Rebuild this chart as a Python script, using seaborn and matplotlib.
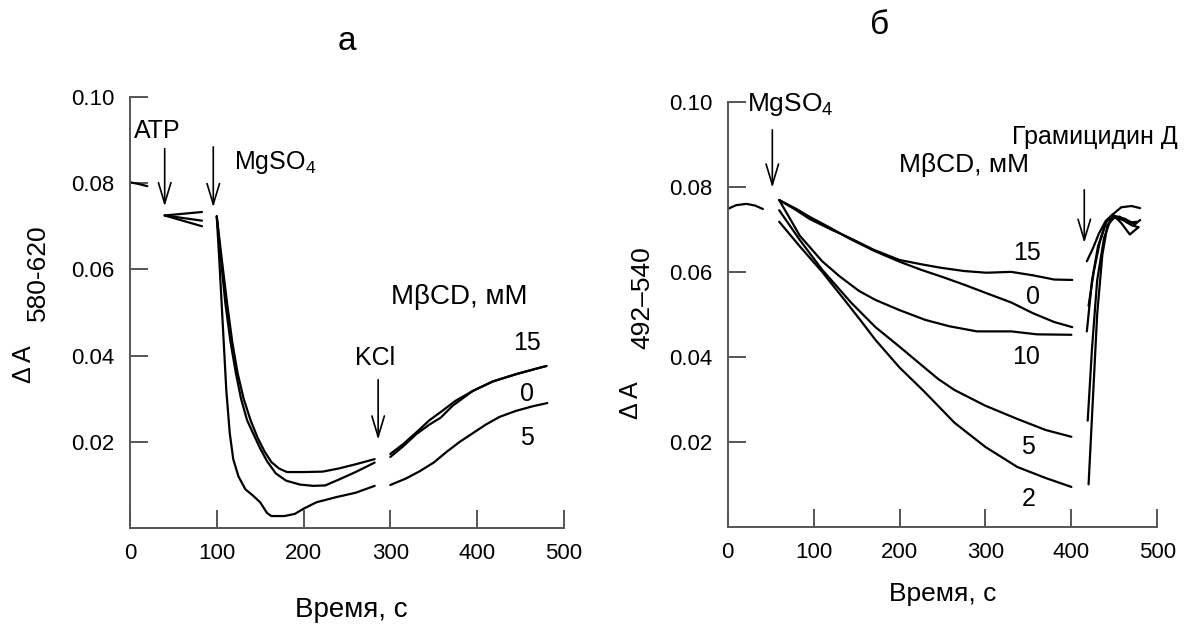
import numpy as np
import pandas as pd
import matplotlib
matplotlib.use("Agg")
import matplotlib.pyplot as plt
import seaborn as sns

# ---- panel a data (time, s ; dA 580-620) ----
t_pre_a = [0, 10, 20]
a_pre_a = [0.0802, 0.0798, 0.0793]

t_atp = [40, 83]
a_atp_15 = [0.0725, 0.0733]
a_atp_0 = [0.0725, 0.0713]
a_atp_5 = [0.0725, 0.0700]

t_mg_15 = [100, 106, 112, 118, 124, 131, 139, 147, 155, 163, 172, 181, 200, 222, 240, 260, 282]
a_mg_15 = [0.0723, 0.062, 0.052, 0.043, 0.036, 0.030, 0.025, 0.021, 0.0178, 0.0153, 0.0138, 0.0130, 0.0130, 0.0131, 0.0138, 0.0148, 0.0160]
t_mg_0 = [100, 105, 110, 116, 122, 128, 135, 143, 150, 158, 168, 180, 196, 211, 225, 240, 260, 282]
a_mg_0 = [0.0723, 0.062, 0.052, 0.043, 0.036, 0.030, 0.025, 0.0215, 0.0185, 0.0155, 0.0127, 0.0110, 0.0101, 0.0098, 0.0099, 0.0112, 0.0130, 0.0152]
t_mg_5 = [100, 103, 107, 111, 115, 119, 125, 133, 142, 150, 158, 163, 178, 190, 200, 215, 238, 260, 282]
a_mg_5 = [0.0723, 0.062, 0.047, 0.032, 0.022, 0.016, 0.012, 0.0090, 0.0075, 0.006, 0.0035, 0.0028, 0.0028, 0.0033, 0.0045, 0.006, 0.0072, 0.0082, 0.0098]

t_kcl_15 = [300, 315, 330, 345, 360, 375, 395, 418, 445, 465, 480]
a_kcl_15 = [0.0172, 0.0195, 0.0222, 0.0250, 0.0272, 0.0295, 0.0318, 0.0340, 0.0357, 0.0368, 0.0376]
t_kcl_0 = [300, 315, 330, 345, 358, 372, 395, 418, 445, 465, 480]
a_kcl_0 = [0.0165, 0.0190, 0.0218, 0.0240, 0.0256, 0.0284, 0.0318, 0.0340, 0.0357, 0.0368, 0.0376]
t_kcl_5 = [300, 318, 334, 350, 365, 380, 395, 410, 426, 445, 465, 481]
a_kcl_5 = [0.0100, 0.0115, 0.0132, 0.0152, 0.0177, 0.0200, 0.0220, 0.0240, 0.0258, 0.0272, 0.0283, 0.0290]

# ---- panel b data (time, s ; dA 492-540) ----
t_pre_b = [0, 10, 22, 32, 41]
a_pre_b = [0.0748, 0.0757, 0.0760, 0.0756, 0.0748]

t_b15 = [60, 80, 95, 120, 142, 170, 200, 225, 247, 275, 301, 330, 355, 380, 401]
a_b15 = [0.0769, 0.0745, 0.0725, 0.0700, 0.0680, 0.0652, 0.0628, 0.0618, 0.0610, 0.0602, 0.0598, 0.0600, 0.0592, 0.0582, 0.0581]
t_b0 = [60, 80, 95, 120, 142, 170, 200, 225, 250, 275, 301, 330, 355, 380, 401]
a_b0 = [0.0769, 0.0748, 0.0730, 0.0703, 0.0678, 0.0650, 0.0624, 0.0605, 0.0588, 0.0570, 0.0550, 0.0528, 0.0503, 0.0482, 0.0470]
t_b10 = [60, 84, 110, 130, 153, 172, 200, 230, 258, 290, 330, 360, 400]
a_b10 = [0.0769, 0.0685, 0.0625, 0.0590, 0.0555, 0.0534, 0.0510, 0.0487, 0.0472, 0.0460, 0.0460, 0.0453, 0.0452]
t_b5 = [60, 84, 110, 144, 172, 200, 223, 245, 264, 300, 337, 370, 400]
a_b5 = [0.0745, 0.0675, 0.0605, 0.0527, 0.0470, 0.0424, 0.0385, 0.0348, 0.0322, 0.0285, 0.0254, 0.0228, 0.0212]
t_b2 = [60, 84, 110, 136, 155, 172, 200, 228, 264, 300, 337, 370, 400]
a_b2 = [0.0718, 0.0660, 0.0600, 0.0534, 0.0485, 0.0440, 0.0375, 0.0320, 0.0245, 0.0188, 0.0141, 0.0115, 0.0094]

# after gramicidin D
t_g1 = [420, 425, 430, 436, 442, 450, 460, 470, 478]
a_g1 = [0.0100, 0.030, 0.050, 0.064, 0.071, 0.0728, 0.0722, 0.0710, 0.0705]
t_g2 = [419, 424, 430, 438, 446, 456, 466, 476]
a_g2 = [0.025, 0.042, 0.058, 0.068, 0.0725, 0.0730, 0.0715, 0.0718]
t_g3 = [418, 424, 431, 440, 448, 458, 468, 478]
a_g3 = [0.046, 0.058, 0.066, 0.0715, 0.0735, 0.0715, 0.0688, 0.0705]
t_g4 = [418, 425, 432, 440, 448, 458, 470, 480]
a_g4 = [0.0625, 0.0655, 0.0690, 0.0720, 0.0735, 0.0752, 0.0755, 0.0750]
t_g5 = [420, 426, 433, 441, 450, 462, 474, 480]
a_g5 = [0.052, 0.060, 0.067, 0.072, 0.0732, 0.0725, 0.0712, 0.0722]

conc_labels_a = ["15", "0", "5"]
conc_labels_b = ["15", "0", "10", "5", "2"]

sns.set_style("ticks")
plt.rcParams["font.family"] = ["Liberation Sans", "DejaVu Sans"]
plt.rcParams["mathtext.fontset"] = "custom"
plt.rcParams["mathtext.rm"] = "Liberation Sans"
plt.rcParams["mathtext.it"] = "Liberation Sans:italic"
plt.rcParams["text.color"] = "black"

fig = plt.figure(figsize=(11.87, 6.25), dpi=100)
ax1 = fig.add_axes([0.1095, 0.155, 0.3655, 0.69])
ax2 = fig.add_axes([0.613, 0.157, 0.362, 0.68])

axcol = "#555555"
lw = 1.6


def curve(ax, t, a):
    df = pd.DataFrame({"t": t, "a": a})
    sns.lineplot(data=df, x="t", y="a", ax=ax, color="black", lw=lw,
                 estimator=None, sort=False)


def arrow(ax, x, y0, y1):
    ax.annotate("", xy=(x, y1), xytext=(x, y0),
                arrowprops=dict(arrowstyle="->,head_length=1.5,head_width=0.45",
                                lw=1.2, color="black", mutation_scale=10,
                                shrinkA=0, shrinkB=0))


# ---- panel a ----
for t, a in [(t_pre_a, a_pre_a), (t_atp, a_atp_15), (t_atp, a_atp_0), (t_atp, a_atp_5),
             (t_mg_15, a_mg_15), (t_mg_0, a_mg_0), (t_mg_5, a_mg_5),
             (t_kcl_15, a_kcl_15), (t_kcl_0, a_kcl_0), (t_kcl_5, a_kcl_5)]:
    curve(ax1, t, a)

arrow(ax1, 40, 0.0880, 0.0746)
arrow(ax1, 96, 0.0884, 0.0744)
arrow(ax1, 286, 0.0344, 0.0205)
ax1.text(31, 0.0920, "ATP", fontsize=18, ha="center", va="center")
ax1.text(120, 0.0848, "MgSO$_4$", fontsize=18, ha="left", va="center")
ax1.text(282, 0.0395, "KCl", fontsize=18, ha="center", va="center")
ax1.text(380, 0.0537, "M\u03b2CD, мМ", fontsize=20, ha="center", va="center")
for lab, y in zip(conc_labels_a, [0.0430, 0.0310, 0.0210]):
    ax1.text(458, y, lab, fontsize=18, ha="center", va="center")

# ---- panel b ----
for t, a in [(t_pre_b, a_pre_b), (t_b15, a_b15), (t_b0, a_b0), (t_b10, a_b10),
             (t_b5, a_b5), (t_b2, a_b2), (t_g1, a_g1), (t_g2, a_g2),
             (t_g3, a_g3), (t_g4, a_g4), (t_g5, a_g5)]:
    curve(ax2, t, a)

arrow(ax2, 52, 0.0934, 0.0798)
arrow(ax2, 415, 0.0793, 0.0668)
ax2.text(22, 0.0995, "MgSO$_4$", fontsize=19, ha="left", va="center")
ax2.text(427, 0.0918, "Грамицидин Д", fontsize=18, ha="center", va="center")
ax2.text(275, 0.0852, "M\u03b2CD, мМ", fontsize=19, ha="center", va="center")
for lab, x, y in zip(conc_labels_b, [348, 355, 347, 350, 350],
                     [0.0645, 0.0540, 0.0400, 0.0188, 0.0066]):
    ax2.text(x, y, lab, fontsize=18, ha="center", va="center")

for ax in (ax1, ax2):
    ax.set_xlim(0, 500)
    ax.set_ylim(0, 0.10)
    ax.set_xticks([0, 100, 200, 300, 400, 500])
    ax.set_yticks([0.02, 0.04, 0.06, 0.08, 0.10])
    ax.set_yticklabels(["0.02", "0.04", "0.06", "0.08", "0.10"])
    ax.tick_params(direction="in", length=13, width=1.4, color=axcol,
                   labelcolor="black", labelsize=16, pad=11)
    ax.set_xlabel("")
    ax.set_ylabel("")
    sns.despine(ax=ax)
    for s in ("left", "bottom"):
        ax.spines[s].set_color(axcol)
        ax.spines[s].set_linewidth(1.4)

W, H = 1187, 625
# axis labels and panel letters, placed in figure pixels
fig.text(351 / W, 1 - 610 / H, "Время, с", fontsize=20, ha="center", va="center")
fig.text(943 / W, 1 - 594 / H, "Время, с", fontsize=19, ha="center", va="center")
fig.text(24 / W, 1 - 364 / H, "Δ A", fontsize=18, rotation=90, ha="center", va="center")
fig.text(38 / W, 1 - 273 / H, "580-620", fontsize=19, rotation=90, ha="center", va="center")
fig.text(631 / W, 1 - 400 / H, "Δ A", fontsize=18, rotation=90, ha="center", va="center")
fig.text(642 / W, 1 - 298 / H, "492–540", fontsize=19, rotation=90, ha="center", va="center")
fig.text(347 / W, 1 - 42 / H, "а", fontsize=24, ha="center", va="center")
fig.text(880 / W, 1 - 25 / H, "б", fontsize=24, ha="center", va="center")

fig.savefig("out.png", dpi=100)
